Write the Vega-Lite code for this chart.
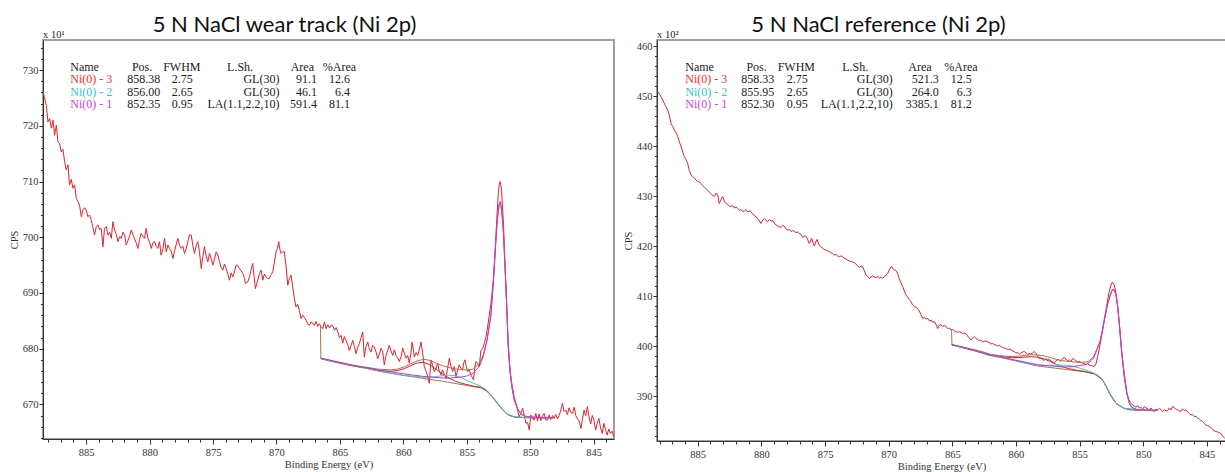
{
"$schema": "https://vega.github.io/schema/vega-lite/v6.json",
"background": "white",
"padding": {"left": 8, "top": 13, "right": 2, "bottom": 0},
"spacing": 7,
"config": {
  "view": {"stroke": "#a0a0a0", "strokeWidth": 2},
  "axis": {"domainColor": "#333333", "tickColor": "#333333", "labelColor": "#333333", "labelFont": "Liberation Serif", "labelFontSize": 10.5, "titleFont": "Liberation Serif", "titleFontSize": 10.5, "titleFontWeight": "normal", "titleColor": "#333333", "grid": false, "labelOverlap": false, "labelFlush": false},
  "title": {"font": "Lato", "fontSize": 22, "fontWeight": "normal", "color": "#111111", "anchor": "middle"},
  "text": {"font": "Liberation Serif", "fontSize": 12}
},
"datasets": {
"L_data": [
{"be":888.40,"cps":726.1},{"be":888.14,"cps":723.7},{"be":888.01,"cps":720.7},{"be":887.88,"cps":721.3},{"be":887.74,"cps":719.6},{"be":887.61,"cps":721.0},{"be":887.49,"cps":718.3},{"be":887.35,"cps":720.1},{"be":887.22,"cps":717.1},{"be":887.09,"cps":716.8},{"be":886.96,"cps":715.3},{"be":886.83,"cps":715.8},{"be":886.70,"cps":713.6},{"be":886.57,"cps":712.1},{"be":886.43,"cps":713.0},{"be":886.31,"cps":709.4},{"be":886.17,"cps":710.4},{"be":886.04,"cps":708.8},{"be":885.91,"cps":709.4},{"be":885.78,"cps":707.0},{"be":885.64,"cps":706.4},{"be":885.51,"cps":705.6},{"be":885.38,"cps":703.7},{"be":885.25,"cps":704.9},{"be":885.12,"cps":705.3},{"be":884.99,"cps":704.9},{"be":884.86,"cps":703.7},{"be":884.73,"cps":704.0},{"be":884.60,"cps":703.1},{"be":884.47,"cps":701.8},{"be":884.34,"cps":700.4},{"be":884.20,"cps":701.9},{"be":884.07,"cps":702.2},{"be":883.94,"cps":701.4},{"be":883.81,"cps":701.6},{"be":883.68,"cps":698.3},{"be":883.55,"cps":701.6},{"be":883.41,"cps":701.9},{"be":883.28,"cps":700.4},{"be":883.15,"cps":700.9},{"be":883.02,"cps":699.8},{"be":882.89,"cps":702.8},{"be":882.76,"cps":701.3},{"be":882.63,"cps":700.6},{"be":882.49,"cps":699.2},{"be":882.36,"cps":700.1},{"be":882.23,"cps":699.8},{"be":882.10,"cps":700.9},{"be":881.97,"cps":700.4},{"be":881.84,"cps":698.6},{"be":881.71,"cps":699.4},{"be":881.58,"cps":700.2},{"be":881.45,"cps":701.3},{"be":881.32,"cps":700.5},{"be":881.19,"cps":699.8},{"be":881.06,"cps":699.0},{"be":880.92,"cps":698.0},{"be":880.79,"cps":699.6},{"be":880.66,"cps":700.7},{"be":880.53,"cps":700.2},{"be":880.40,"cps":699.8},{"be":880.27,"cps":701.6},{"be":880.13,"cps":699.8},{"be":880.00,"cps":699.1},{"be":879.87,"cps":698.0},{"be":879.74,"cps":699.0},{"be":879.61,"cps":699.2},{"be":879.48,"cps":698.4},{"be":879.35,"cps":698.0},{"be":879.22,"cps":699.2},{"be":879.09,"cps":696.8},{"be":878.95,"cps":697.9},{"be":878.82,"cps":699.8},{"be":878.69,"cps":697.4},{"be":878.56,"cps":698.6},{"be":878.43,"cps":698.0},{"be":878.29,"cps":697.5},{"be":878.16,"cps":696.2},{"be":878.03,"cps":697.6},{"be":877.90,"cps":698.7},{"be":877.77,"cps":699.8},{"be":877.64,"cps":698.5},{"be":877.51,"cps":698.0},{"be":877.38,"cps":698.4},{"be":877.25,"cps":697.1},{"be":877.11,"cps":698.0},{"be":876.98,"cps":699.3},{"be":876.86,"cps":700.4},{"be":876.72,"cps":700.4},{"be":876.59,"cps":698.5},{"be":876.46,"cps":697.1},{"be":876.33,"cps":698.5},{"be":876.20,"cps":699.2},{"be":876.06,"cps":697.2},{"be":875.93,"cps":694.4},{"be":875.80,"cps":696.5},{"be":875.68,"cps":698.3},{"be":875.54,"cps":696.6},{"be":875.41,"cps":695.6},{"be":875.28,"cps":697.1},{"be":875.15,"cps":696.2},{"be":875.01,"cps":695.0},{"be":874.88,"cps":696.1},{"be":874.75,"cps":697.4},{"be":874.62,"cps":696.8},{"be":874.49,"cps":695.6},{"be":874.36,"cps":694.6},{"be":874.23,"cps":694.1},{"be":874.10,"cps":695.2},{"be":873.97,"cps":694.4},{"be":873.84,"cps":693.5},{"be":873.71,"cps":692.3},{"be":873.57,"cps":693.6},{"be":873.44,"cps":692.9},{"be":873.31,"cps":693.8},{"be":873.18,"cps":695.0},{"be":873.05,"cps":694.9},{"be":872.92,"cps":694.4},{"be":872.79,"cps":694.0},{"be":872.65,"cps":693.5},{"be":872.52,"cps":692.6},{"be":872.45,"cps":691.7},{"be":872.26,"cps":692.0},{"be":872.13,"cps":692.9},{"be":872.00,"cps":694.2},{"be":871.87,"cps":695.3},{"be":871.77,"cps":693.0},{"be":871.66,"cps":690.8},{"be":871.47,"cps":692.3},{"be":871.34,"cps":693.5},{"be":871.21,"cps":694.1},{"be":871.08,"cps":692.3},{"be":870.95,"cps":693.4},{"be":870.82,"cps":692.9},{"be":870.69,"cps":692.6},{"be":870.56,"cps":692.6},{"be":870.42,"cps":693.3},{"be":870.29,"cps":693.8},{"be":870.16,"cps":695.6},{"be":870.03,"cps":697.4},{"be":869.93,"cps":698.0},{"be":869.82,"cps":699.2},{"be":869.73,"cps":697.8},{"be":869.64,"cps":697.1},{"be":869.51,"cps":697.4},{"be":869.38,"cps":697.4},{"be":869.24,"cps":694.7},{"be":869.11,"cps":691.4},{"be":868.98,"cps":692.6},{"be":868.85,"cps":693.2},{"be":868.72,"cps":691.1},{"be":868.59,"cps":689.0},{"be":868.46,"cps":687.5},{"be":868.33,"cps":688.0},{"be":868.20,"cps":686.9},{"be":868.06,"cps":685.4},{"be":867.93,"cps":686.0},{"be":867.80,"cps":685.6},{"be":867.67,"cps":685.1},{"be":867.54,"cps":684.5},{"be":867.41,"cps":684.2},{"be":867.28,"cps":684.8},{"be":867.14,"cps":684.6},{"be":867.01,"cps":684.2},{"be":866.88,"cps":684.9},{"be":866.75,"cps":684.0},{"be":866.62,"cps":684.5},{"be":866.49,"cps":684.0},{"be":866.36,"cps":683.6},{"be":866.22,"cps":684.8},{"be":866.09,"cps":683.6},{"be":865.96,"cps":684.3},{"be":865.83,"cps":683.7},{"be":865.70,"cps":684.2},{"be":865.57,"cps":684.2},{"be":865.43,"cps":683.3},{"be":865.30,"cps":683.8},{"be":865.17,"cps":683.0},{"be":865.04,"cps":682.0},{"be":864.91,"cps":682.4},{"be":864.78,"cps":681.0},{"be":864.65,"cps":682.2},{"be":864.52,"cps":681.5},{"be":864.39,"cps":680.8},{"be":864.26,"cps":679.7},{"be":864.12,"cps":680.6},{"be":863.99,"cps":681.5},{"be":863.86,"cps":680.4},{"be":863.73,"cps":679.1},{"be":863.60,"cps":680.2},{"be":863.47,"cps":680.9},{"be":863.33,"cps":682.0},{"be":863.20,"cps":683.0},{"be":863.08,"cps":678.5},{"be":862.94,"cps":680.4},{"be":862.81,"cps":681.2},{"be":862.68,"cps":680.0},{"be":862.55,"cps":679.4},{"be":862.42,"cps":680.6},{"be":862.29,"cps":680.3},{"be":862.15,"cps":679.4},{"be":862.02,"cps":678.2},{"be":861.89,"cps":679.0},{"be":861.76,"cps":680.1},{"be":861.63,"cps":679.5},{"be":861.50,"cps":677.1},{"be":861.37,"cps":678.8},{"be":861.23,"cps":679.7},{"be":861.11,"cps":680.6},{"be":860.97,"cps":679.6},{"be":860.84,"cps":678.8},{"be":860.71,"cps":679.8},{"be":860.58,"cps":678.8},{"be":860.45,"cps":678.4},{"be":860.32,"cps":677.7},{"be":860.18,"cps":678.6},{"be":860.05,"cps":680.1},{"be":859.92,"cps":679.2},{"be":859.79,"cps":678.3},{"be":859.66,"cps":678.8},{"be":859.53,"cps":677.4},{"be":859.42,"cps":679.0},{"be":859.31,"cps":681.2},{"be":859.13,"cps":678.5},{"be":859.00,"cps":679.3},{"be":858.87,"cps":678.8},{"be":858.74,"cps":679.9},{"be":858.61,"cps":681.2},{"be":858.48,"cps":679.2},{"be":858.35,"cps":676.8},{"be":858.22,"cps":676.0},{"be":858.08,"cps":675.0},{"be":857.96,"cps":673.8},{"be":857.82,"cps":678.0},{"be":857.69,"cps":677.0},{"be":857.56,"cps":675.9},{"be":857.43,"cps":676.4},{"be":857.30,"cps":677.4},{"be":857.17,"cps":676.0},{"be":857.04,"cps":675.3},{"be":856.91,"cps":676.2},{"be":856.78,"cps":675.4},{"be":856.64,"cps":674.7},{"be":856.51,"cps":676.5},{"be":856.38,"cps":678.3},{"be":856.25,"cps":676.9},{"be":856.12,"cps":675.9},{"be":855.99,"cps":676.8},{"be":855.86,"cps":675.0},{"be":855.73,"cps":676.0},{"be":855.60,"cps":677.1},{"be":855.47,"cps":676.5},{"be":855.33,"cps":676.2},{"be":855.24,"cps":677.5},{"be":855.15,"cps":678.0},{"be":855.04,"cps":676.8},{"be":854.94,"cps":675.9},{"be":854.81,"cps":676.2},{"be":854.68,"cps":675.3},{"be":854.58,"cps":674.9},{"be":854.47,"cps":674.4},{"be":854.38,"cps":676.4},{"be":854.28,"cps":677.7},{"be":854.15,"cps":677.4},{"be":854.02,"cps":676.8},{"be":853.89,"cps":679.7},{"be":853.76,"cps":680.0},{"be":853.63,"cps":680.9},{"be":853.50,"cps":682.0},{"be":853.36,"cps":683.9},{"be":853.23,"cps":686.0},{"be":853.10,"cps":688.1},{"be":853.01,"cps":690.0},{"be":852.92,"cps":692.3},{"be":852.81,"cps":696.0},{"be":852.71,"cps":700.1},{"be":852.64,"cps":703.2},{"be":852.57,"cps":706.1},{"be":852.51,"cps":708.0},{"be":852.45,"cps":709.4},{"be":852.37,"cps":710.0},{"be":852.31,"cps":709.3},{"be":852.26,"cps":708.5},{"be":852.20,"cps":706.0},{"be":852.13,"cps":703.1},{"be":852.06,"cps":699.6},{"be":852.00,"cps":695.9},{"be":851.93,"cps":692.0},{"be":851.86,"cps":688.1},{"be":851.80,"cps":684.2},{"be":851.74,"cps":680.3},{"be":851.63,"cps":677.2},{"be":851.53,"cps":674.9},{"be":851.40,"cps":673.0},{"be":851.27,"cps":671.4},{"be":851.13,"cps":670.2},{"be":851.00,"cps":669.0},{"be":850.87,"cps":667.8},{"be":850.74,"cps":668.5},{"be":850.60,"cps":669.3},{"be":850.47,"cps":668.0},{"be":850.34,"cps":666.6},{"be":850.21,"cps":666.8},{"be":850.08,"cps":665.4},{"be":849.95,"cps":668.1},{"be":849.82,"cps":667.4},{"be":849.69,"cps":667.2},{"be":849.56,"cps":668.4},{"be":849.43,"cps":667.0},{"be":849.30,"cps":668.3},{"be":849.17,"cps":667.1},{"be":849.04,"cps":667.9},{"be":848.91,"cps":668.4},{"be":848.78,"cps":667.2},{"be":848.64,"cps":667.2},{"be":848.51,"cps":668.1},{"be":848.38,"cps":667.3},{"be":848.25,"cps":668.0},{"be":848.12,"cps":667.5},{"be":847.99,"cps":668.2},{"be":847.86,"cps":667.4},{"be":847.73,"cps":668.0},{"be":847.59,"cps":669.0},{"be":847.46,"cps":670.2},{"be":847.33,"cps":668.7},{"be":847.20,"cps":669.0},{"be":847.07,"cps":668.2},{"be":846.94,"cps":669.4},{"be":846.80,"cps":668.6},{"be":846.67,"cps":668.4},{"be":846.54,"cps":669.5},{"be":846.41,"cps":668.0},{"be":846.28,"cps":667.4},{"be":846.15,"cps":667.0},{"be":846.00,"cps":665.7},{"be":845.88,"cps":667.5},{"be":845.76,"cps":669.0},{"be":845.63,"cps":668.0},{"be":845.50,"cps":669.6},{"be":845.37,"cps":667.8},{"be":845.24,"cps":666.5},{"be":845.11,"cps":668.0},{"be":844.98,"cps":667.2},{"be":844.85,"cps":665.4},{"be":844.72,"cps":666.6},{"be":844.59,"cps":667.5},{"be":844.46,"cps":665.8},{"be":844.33,"cps":664.8},{"be":844.20,"cps":666.6},{"be":844.07,"cps":665.5},{"be":843.94,"cps":664.5},{"be":843.81,"cps":665.6},{"be":843.68,"cps":664.8},{"be":843.55,"cps":665.2},{"be":843.42,"cps":664.2}
],
"L_bg": [
{"be":848.2,"cps":667.6},{"be":849.0,"cps":667.6},{"be":850.0,"cps":667.6},{"be":851.0,"cps":667.7},{"be":851.2,"cps":667.7},{"be":851.5,"cps":667.9},{"be":851.8,"cps":668.2},{"be":852.0,"cps":668.6},{"be":852.2,"cps":669.1},{"be":852.4,"cps":669.6},{"be":852.6,"cps":670.2},{"be":852.8,"cps":670.8},{"be":853.0,"cps":671.4},{"be":853.2,"cps":671.9},{"be":853.5,"cps":672.5},{"be":853.9,"cps":673.0},{"be":854.5,"cps":673.2},{"be":855.0,"cps":673.4},{"be":856.0,"cps":673.8},{"be":857.0,"cps":674.2},{"be":858.0,"cps":674.5},{"be":859.0,"cps":674.9},{"be":860.0,"cps":675.2},{"be":861.0,"cps":675.6},{"be":862.0,"cps":676.0},{"be":863.0,"cps":676.5},{"be":864.0,"cps":676.9},{"be":865.0,"cps":677.4},{"be":866.0,"cps":677.9},{"be":866.5,"cps":678.2},{"be":866.53,"cps":684.2}
],
"L_c3": [
{"be":848.2,"cps":667.61},{"be":850.0,"cps":667.62},{"be":851.2,"cps":667.73},{"be":851.8,"cps":668.23},{"be":852.2,"cps":669.14},{"be":852.6,"cps":670.24},{"be":853.0,"cps":671.45},{"be":853.4,"cps":672.4},{"be":853.9,"cps":673.08},{"be":854.4,"cps":673.25},{"be":854.9,"cps":673.51},{"be":855.4,"cps":673.79},{"be":855.9,"cps":674.17},{"be":856.4,"cps":674.72},{"be":856.9,"cps":675.47},{"be":857.4,"cps":676.31},{"be":857.9,"cps":677.1},{"be":858.38,"cps":677.55},{"be":858.9,"cps":677.47},{"be":859.4,"cps":676.98},{"be":859.9,"cps":676.45},{"be":860.4,"cps":676.1},{"be":860.9,"cps":675.97},{"be":861.4,"cps":675.99},{"be":862.0,"cps":676.14},{"be":863.0,"cps":676.57},{"be":864.5,"cps":677.19},{"be":866.5,"cps":678.23}
],
"L_c2": [
{"be":848.2,"cps":667.62},{"be":850.0,"cps":667.63},{"be":851.2,"cps":667.74},{"be":851.8,"cps":668.25},{"be":852.2,"cps":669.16},{"be":852.6,"cps":670.28},{"be":853.0,"cps":671.51},{"be":853.5,"cps":672.7},{"be":854.0,"cps":673.39},{"be":854.5,"cps":673.82},{"be":855.0,"cps":674.35},{"be":855.5,"cps":674.86},{"be":856.0,"cps":675.2},{"be":856.5,"cps":675.26},{"be":857.0,"cps":675.15},{"be":857.5,"cps":674.97},{"be":858.0,"cps":674.86},{"be":858.5,"cps":674.9},{"be":859.0,"cps":675.01},{"be":860.0,"cps":675.25},{"be":861.0,"cps":675.63},{"be":863.0,"cps":676.52},{"be":866.5,"cps":678.21}
],
"L_c1": [
{"be":848.2,"cps":667.6},{"be":849.5,"cps":667.65},{"be":850.3,"cps":667.8},{"be":850.7,"cps":668.2},{"be":851.0,"cps":669.2},{"be":851.27,"cps":670.85},{"be":851.45,"cps":673.1},{"be":851.6,"cps":676.1},{"be":851.74,"cps":681.0},{"be":851.86,"cps":687.9},{"be":852.0,"cps":695.2},{"be":852.13,"cps":701.4},{"be":852.25,"cps":704.6},{"be":852.35,"cps":706.35},{"be":852.45,"cps":705.9},{"be":852.6,"cps":703.0},{"be":852.75,"cps":697.9},{"be":852.9,"cps":692.1},{"be":853.1,"cps":686.0},{"be":853.4,"cps":681.5},{"be":853.7,"cps":678.6},{"be":854.0,"cps":676.9},{"be":854.5,"cps":675.6},{"be":855.0,"cps":675.1},{"be":855.5,"cps":674.9},{"be":856.5,"cps":674.7},{"be":857.5,"cps":674.85},{"be":858.5,"cps":675.05},{"be":860.0,"cps":675.5},{"be":862.0,"cps":676.2},{"be":864.0,"cps":677.0},{"be":866.5,"cps":678.3}
],
"L_env": [
{"be":848.2,"cps":667.65},{"be":849.5,"cps":667.7},{"be":850.3,"cps":667.85},{"be":850.7,"cps":668.25},{"be":851.0,"cps":669.25},{"be":851.27,"cps":670.9},{"be":851.45,"cps":673.2},{"be":851.6,"cps":676.2},{"be":851.74,"cps":681.1},{"be":851.86,"cps":688.0},{"be":852.0,"cps":695.3},{"be":852.13,"cps":701.5},{"be":852.25,"cps":704.7},{"be":852.35,"cps":706.45},{"be":852.45,"cps":706.0},{"be":852.6,"cps":703.1},{"be":852.75,"cps":698.0},{"be":852.9,"cps":692.2},{"be":853.1,"cps":686.18},{"be":853.4,"cps":681.74},{"be":853.7,"cps":678.93},{"be":854.0,"cps":677.4},{"be":854.5,"cps":676.34},{"be":855.0,"cps":676.19},{"be":855.5,"cps":676.25},{"be":856.0,"cps":676.42},{"be":856.4,"cps":676.62},{"be":856.9,"cps":676.93},{"be":857.4,"cps":677.4},{"be":857.9,"cps":677.9},{"be":858.38,"cps":678.1},{"be":858.9,"cps":677.84},{"be":859.4,"cps":677.3},{"be":859.9,"cps":676.77},{"be":860.4,"cps":676.37},{"be":861.0,"cps":676.2},{"be":862.0,"cps":676.34},{"be":864.0,"cps":677.06},{"be":866.5,"cps":678.3}
],
"L_names": [
{"t":"Name","be":886.25,"cps":730.6,"k":"hdr"},{"t":"Ni(0) - 3","be":886.25,"cps":728.36,"k":"Ni(0) - 3"},{"t":"Ni(0) - 2","be":886.25,"cps":726.15,"k":"Ni(0) - 2"},{"t":"Ni(0) - 1","be":886.25,"cps":723.87,"k":"Ni(0) - 1"}
],
"L_cells": [
{"t":"Pos.","be":879.79,"cps":730.6},{"t":"FWHM","be":875.99,"cps":730.6},{"t":"L.Sh.","be":871.84,"cps":730.6},{"t":"Area","be":867.04,"cps":730.6},{"t":"%Area","be":863.72,"cps":730.6},
{"t":"858.38","be":879.16,"cps":728.36},{"t":"2.75","be":876.59,"cps":728.36},{"t":"GL(30)","be":869.77,"cps":728.36},{"t":"91.1","be":866.8,"cps":728.36},{"t":"12.6","be":864.2,"cps":728.36},
{"t":"856.00","be":879.16,"cps":726.15},{"t":"2.65","be":876.59,"cps":726.15},{"t":"GL(30)","be":869.77,"cps":726.15},{"t":"46.1","be":866.8,"cps":726.15},{"t":"6.4","be":864.2,"cps":726.15},
{"t":"852.35","be":879.16,"cps":723.87},{"t":"0.95","be":876.59,"cps":723.87},{"t":"LA(1.1,2.2,10)","be":869.77,"cps":723.87},{"t":"591.4","be":866.8,"cps":723.87},{"t":"81.1","be":864.2,"cps":723.87}
],
"L_exp": [{"t":"x 10¹","be":888.4,"cps":735.4}],
"R_data": [
{"be":888.15,"cps":450.9},{"be":887.95,"cps":450.2},{"be":887.75,"cps":449.2},{"be":887.55,"cps":448.1},{"be":887.36,"cps":447.2},{"be":887.22,"cps":446.0},{"be":887.10,"cps":444.5},{"be":886.97,"cps":443.9},{"be":886.84,"cps":443.2},{"be":886.70,"cps":442.6},{"be":886.57,"cps":441.9},{"be":886.44,"cps":440.8},{"be":886.31,"cps":439.9},{"be":886.18,"cps":438.8},{"be":886.06,"cps":437.9},{"be":885.92,"cps":437.3},{"be":885.79,"cps":436.5},{"be":885.66,"cps":435.1},{"be":885.53,"cps":434.2},{"be":885.40,"cps":433.9},{"be":885.27,"cps":433.6},{"be":885.14,"cps":433.2},{"be":885.00,"cps":432.9},{"be":884.87,"cps":432.8},{"be":884.74,"cps":432.5},{"be":884.61,"cps":432.1},{"be":884.48,"cps":431.8},{"be":884.35,"cps":431.5},{"be":884.22,"cps":431.1},{"be":884.09,"cps":430.8},{"be":883.96,"cps":430.5},{"be":883.83,"cps":430.1},{"be":883.70,"cps":429.9},{"be":883.56,"cps":430.6},{"be":883.43,"cps":430.2},{"be":883.31,"cps":428.5},{"be":883.17,"cps":429.3},{"be":883.04,"cps":429.9},{"be":882.91,"cps":429.0},{"be":882.78,"cps":428.5},{"be":882.65,"cps":428.3},{"be":882.52,"cps":428.0},{"be":882.39,"cps":427.9},{"be":882.26,"cps":428.1},{"be":882.12,"cps":427.6},{"be":881.99,"cps":427.8},{"be":881.86,"cps":427.5},{"be":881.73,"cps":427.2},{"be":881.60,"cps":427.3},{"be":881.47,"cps":426.9},{"be":881.34,"cps":427.0},{"be":881.21,"cps":427.3},{"be":881.08,"cps":426.8},{"be":880.95,"cps":427.0},{"be":880.82,"cps":426.9},{"be":880.69,"cps":426.4},{"be":880.56,"cps":426.2},{"be":880.42,"cps":425.8},{"be":880.29,"cps":425.5},{"be":880.16,"cps":425.0},{"be":880.03,"cps":424.5},{"be":879.90,"cps":425.2},{"be":879.77,"cps":425.5},{"be":879.64,"cps":425.1},{"be":879.50,"cps":424.9},{"be":879.37,"cps":425.3},{"be":879.24,"cps":425.0},{"be":879.11,"cps":425.1},{"be":878.98,"cps":424.6},{"be":878.85,"cps":424.2},{"be":878.72,"cps":424.0},{"be":878.59,"cps":423.9},{"be":878.46,"cps":423.7},{"be":878.33,"cps":424.1},{"be":878.20,"cps":424.0},{"be":878.07,"cps":423.4},{"be":877.93,"cps":423.2},{"be":877.80,"cps":423.3},{"be":877.67,"cps":422.9},{"be":877.54,"cps":423.1},{"be":877.41,"cps":422.9},{"be":877.28,"cps":422.7},{"be":877.15,"cps":422.8},{"be":877.02,"cps":422.5},{"be":876.88,"cps":422.3},{"be":876.75,"cps":421.7},{"be":876.63,"cps":422.0},{"be":876.50,"cps":422.0},{"be":876.37,"cps":421.3},{"be":876.24,"cps":420.5},{"be":876.14,"cps":421.0},{"be":876.05,"cps":421.5},{"be":875.94,"cps":420.6},{"be":875.84,"cps":420.0},{"be":875.73,"cps":420.8},{"be":875.63,"cps":421.3},{"be":875.50,"cps":420.4},{"be":875.37,"cps":419.9},{"be":875.24,"cps":419.7},{"be":875.06,"cps":419.3},{"be":874.93,"cps":419.2},{"be":874.80,"cps":419.0},{"be":874.67,"cps":418.9},{"be":874.54,"cps":418.7},{"be":874.41,"cps":418.5},{"be":874.28,"cps":418.2},{"be":874.14,"cps":418.3},{"be":874.01,"cps":418.0},{"be":873.88,"cps":417.9},{"be":873.75,"cps":418.0},{"be":873.62,"cps":417.9},{"be":873.49,"cps":417.5},{"be":873.35,"cps":417.4},{"be":873.22,"cps":417.2},{"be":873.09,"cps":417.0},{"be":872.96,"cps":416.9},{"be":872.83,"cps":416.8},{"be":872.70,"cps":416.7},{"be":872.57,"cps":416.4},{"be":872.44,"cps":416.0},{"be":872.31,"cps":415.7},{"be":872.17,"cps":416.0},{"be":872.04,"cps":415.9},{"be":871.91,"cps":415.0},{"be":871.78,"cps":414.2},{"be":871.65,"cps":413.9},{"be":871.52,"cps":413.5},{"be":871.39,"cps":413.8},{"be":871.26,"cps":414.0},{"be":871.13,"cps":413.8},{"be":870.99,"cps":413.7},{"be":870.86,"cps":413.9},{"be":870.73,"cps":413.6},{"be":870.60,"cps":413.8},{"be":870.47,"cps":413.5},{"be":870.34,"cps":413.9},{"be":870.21,"cps":414.2},{"be":870.08,"cps":414.5},{"be":869.95,"cps":415.2},{"be":869.82,"cps":415.8},{"be":869.76,"cps":415.9},{"be":869.62,"cps":415.3},{"be":869.43,"cps":415.1},{"be":869.30,"cps":414.5},{"be":869.17,"cps":413.5},{"be":869.03,"cps":412.6},{"be":868.90,"cps":411.9},{"be":868.77,"cps":411.0},{"be":868.64,"cps":410.2},{"be":868.51,"cps":409.8},{"be":868.38,"cps":409.3},{"be":868.25,"cps":408.9},{"be":868.12,"cps":408.2},{"be":867.99,"cps":407.9},{"be":867.86,"cps":407.8},{"be":867.73,"cps":407.4},{"be":867.64,"cps":407.2},{"be":867.46,"cps":406.3},{"be":867.33,"cps":405.5},{"be":867.20,"cps":405.7},{"be":867.06,"cps":405.4},{"be":866.93,"cps":405.5},{"be":866.80,"cps":405.0},{"be":866.67,"cps":405.2},{"be":866.54,"cps":404.7},{"be":866.41,"cps":404.9},{"be":866.28,"cps":404.3},{"be":866.15,"cps":403.5},{"be":866.02,"cps":404.2},{"be":865.89,"cps":404.2},{"be":865.76,"cps":403.9},{"be":865.63,"cps":404.1},{"be":865.50,"cps":403.9},{"be":865.37,"cps":403.5},{"be":865.24,"cps":403.6},{"be":865.10,"cps":403.2},{"be":864.97,"cps":403.3},{"be":864.84,"cps":403.0},{"be":864.71,"cps":402.9},{"be":864.58,"cps":402.7},{"be":864.45,"cps":402.9},{"be":864.32,"cps":402.7},{"be":864.19,"cps":402.5},{"be":864.06,"cps":402.6},{"be":863.93,"cps":402.4},{"be":863.80,"cps":402.0},{"be":863.66,"cps":401.6},{"be":863.53,"cps":401.2},{"be":863.40,"cps":401.6},{"be":863.27,"cps":401.9},{"be":863.14,"cps":401.5},{"be":863.01,"cps":401.3},{"be":862.88,"cps":401.1},{"be":862.75,"cps":401.2},{"be":862.62,"cps":400.8},{"be":862.49,"cps":400.9},{"be":862.36,"cps":401.0},{"be":862.23,"cps":400.8},{"be":862.10,"cps":400.7},{"be":861.96,"cps":400.4},{"be":861.83,"cps":400.5},{"be":861.70,"cps":400.3},{"be":861.57,"cps":400.2},{"be":861.44,"cps":400.0},{"be":861.31,"cps":400.1},{"be":861.18,"cps":399.9},{"be":861.05,"cps":399.7},{"be":860.92,"cps":399.6},{"be":860.78,"cps":399.5},{"be":860.65,"cps":399.3},{"be":860.52,"cps":399.4},{"be":860.39,"cps":399.2},{"be":860.26,"cps":399.0},{"be":860.13,"cps":398.9},{"be":860.00,"cps":398.6},{"be":859.87,"cps":398.7},{"be":859.74,"cps":398.4},{"be":859.61,"cps":398.6},{"be":859.48,"cps":398.8},{"be":859.35,"cps":398.9},{"be":859.21,"cps":398.6},{"be":859.08,"cps":398.3},{"be":858.95,"cps":398.5},{"be":858.82,"cps":398.4},{"be":858.69,"cps":398.6},{"be":858.56,"cps":398.9},{"be":858.43,"cps":398.5},{"be":858.30,"cps":398.0},{"be":858.17,"cps":397.5},{"be":858.04,"cps":397.6},{"be":857.91,"cps":397.3},{"be":857.78,"cps":397.1},{"be":857.64,"cps":397.5},{"be":857.51,"cps":397.2},{"be":857.38,"cps":397.3},{"be":857.25,"cps":397.0},{"be":857.12,"cps":396.8},{"be":856.99,"cps":396.7},{"be":856.86,"cps":397.0},{"be":856.73,"cps":397.3},{"be":856.60,"cps":397.2},{"be":856.47,"cps":396.9},{"be":856.33,"cps":397.5},{"be":856.20,"cps":397.7},{"be":856.07,"cps":397.4},{"be":855.94,"cps":397.1},{"be":855.81,"cps":397.2},{"be":855.68,"cps":396.9},{"be":855.55,"cps":397.5},{"be":855.42,"cps":397.3},{"be":855.29,"cps":397.0},{"be":855.16,"cps":396.8},{"be":855.03,"cps":396.9},{"be":854.90,"cps":396.7},{"be":854.76,"cps":396.6},{"be":854.63,"cps":396.5},{"be":854.50,"cps":396.3},{"be":854.37,"cps":396.5},{"be":854.24,"cps":396.2},{"be":854.11,"cps":396.1},{"be":853.98,"cps":396.0},{"be":853.85,"cps":395.9},{"be":853.71,"cps":396.5},{"be":853.58,"cps":397.9},{"be":853.46,"cps":399.4},{"be":853.33,"cps":401.2},{"be":853.19,"cps":403.2},{"be":853.06,"cps":405.3},{"be":852.93,"cps":407.2},{"be":852.80,"cps":409.2},{"be":852.67,"cps":410.9},{"be":852.56,"cps":412.0},{"be":852.46,"cps":412.7},{"be":852.37,"cps":412.6},{"be":852.28,"cps":412.2},{"be":852.18,"cps":411.0},{"be":852.07,"cps":409.2},{"be":851.98,"cps":407.0},{"be":851.88,"cps":404.5},{"be":851.79,"cps":401.8},{"be":851.70,"cps":399.2},{"be":851.60,"cps":396.8},{"be":851.49,"cps":394.5},{"be":851.38,"cps":392.4},{"be":851.28,"cps":390.5},{"be":851.15,"cps":389.4},{"be":851.02,"cps":388.7},{"be":850.90,"cps":388.3},{"be":850.71,"cps":388.0},{"be":850.58,"cps":387.8},{"be":850.44,"cps":388.1},{"be":850.30,"cps":387.6},{"be":850.17,"cps":387.7},{"be":850.04,"cps":387.4},{"be":849.91,"cps":387.9},{"be":849.78,"cps":387.6},{"be":849.65,"cps":387.5},{"be":849.52,"cps":387.2},{"be":849.39,"cps":387.6},{"be":849.26,"cps":387.1},{"be":849.13,"cps":386.9},{"be":849.00,"cps":387.4},{"be":848.87,"cps":387.2},{"be":848.74,"cps":387.5},{"be":848.61,"cps":387.3},{"be":848.48,"cps":386.9},{"be":848.34,"cps":387.3},{"be":848.21,"cps":387.0},{"be":848.08,"cps":387.1},{"be":847.95,"cps":387.6},{"be":847.82,"cps":387.2},{"be":847.69,"cps":387.9},{"be":847.56,"cps":387.7},{"be":847.43,"cps":387.3},{"be":847.30,"cps":387.2},{"be":847.17,"cps":386.9},{"be":847.04,"cps":387.0},{"be":846.91,"cps":387.4},{"be":846.78,"cps":387.1},{"be":846.64,"cps":387.2},{"be":846.51,"cps":386.8},{"be":846.38,"cps":386.5},{"be":846.25,"cps":386.2},{"be":846.12,"cps":386.3},{"be":845.99,"cps":385.9},{"be":845.86,"cps":385.9},{"be":845.73,"cps":385.6},{"be":845.60,"cps":385.4},{"be":845.47,"cps":385.1},{"be":845.34,"cps":384.9},{"be":845.21,"cps":384.5},{"be":845.08,"cps":384.2},{"be":844.95,"cps":384.1},{"be":844.82,"cps":383.9},{"be":844.69,"cps":383.7},{"be":844.56,"cps":383.4},{"be":844.43,"cps":383.0},{"be":844.29,"cps":382.9},{"be":844.16,"cps":382.8},{"be":844.03,"cps":382.7},{"be":843.90,"cps":382.5},{"be":843.77,"cps":382.0},{"be":843.59,"cps":381.5}
],
"R_bg": [
{"be":848.9,"cps":387.1},{"be":850.2,"cps":387.1},{"be":851.0,"cps":387.2},{"be":851.5,"cps":387.5},{"be":851.8,"cps":387.9},{"be":852.14,"cps":388.5},{"be":852.4,"cps":389.4},{"be":852.67,"cps":390.6},{"be":852.9,"cps":392.0},{"be":853.2,"cps":393.2},{"be":853.5,"cps":393.9},{"be":853.85,"cps":394.4},{"be":854.5,"cps":394.8},{"be":855.7,"cps":395.2},{"be":857.0,"cps":395.6},{"be":858.3,"cps":396.0},{"be":859.0,"cps":396.4},{"be":860.0,"cps":397.0},{"be":861.0,"cps":397.6},{"be":862.2,"cps":398.2},{"be":863.0,"cps":398.9},{"be":864.0,"cps":399.6},{"be":865.03,"cps":400.2},{"be":865.06,"cps":403.3}
],
"R_c3": [
{"be":848.9,"cps":387.115},{"be":850.2,"cps":387.12},{"be":851.5,"cps":387.53},{"be":852.14,"cps":388.53},{"be":852.67,"cps":390.64},{"be":853.2,"cps":393.25},{"be":853.85,"cps":394.46},{"be":854.3,"cps":394.72},{"be":854.8,"cps":395.0},{"be":855.3,"cps":395.19},{"be":855.8,"cps":395.45},{"be":856.3,"cps":395.8},{"be":856.8,"cps":396.28},{"be":857.3,"cps":396.9},{"be":857.8,"cps":397.43},{"be":858.33,"cps":397.77},{"be":858.8,"cps":397.88},{"be":859.3,"cps":397.78},{"be":859.8,"cps":397.7},{"be":860.3,"cps":397.66},{"be":860.8,"cps":397.75},{"be":861.3,"cps":397.89},{"be":862.0,"cps":398.18},{"be":863.0,"cps":398.95},{"be":865.03,"cps":400.24}
],
"R_c2": [
{"be":848.9,"cps":387.11},{"be":850.2,"cps":387.12},{"be":851.5,"cps":387.53},{"be":852.14,"cps":388.54},{"be":852.67,"cps":390.65},{"be":853.2,"cps":393.29},{"be":853.5,"cps":394.02},{"be":854.0,"cps":394.72},{"be":854.5,"cps":395.17},{"be":855.0,"cps":395.58},{"be":855.5,"cps":395.93},{"be":855.95,"cps":396.13},{"be":856.5,"cps":396.17},{"be":857.0,"cps":396.18},{"be":857.5,"cps":396.12},{"be":858.0,"cps":396.12},{"be":859.0,"cps":396.47},{"be":861.0,"cps":397.62},{"be":865.03,"cps":400.21}
],
"R_c1": [
{"be":848.9,"cps":387.1},{"be":849.5,"cps":387.15},{"be":850.5,"cps":387.25},{"be":850.9,"cps":387.7},{"be":851.1,"cps":388.55},{"be":851.3,"cps":390.6},{"be":851.5,"cps":394.0},{"be":851.7,"cps":398.8},{"be":851.85,"cps":403.5},{"be":852.0,"cps":407.7},{"be":852.15,"cps":410.3},{"be":852.3,"cps":411.2},{"be":852.45,"cps":411.1},{"be":852.6,"cps":410.0},{"be":852.8,"cps":408.3},{"be":853.0,"cps":405.8},{"be":853.2,"cps":403.2},{"be":853.4,"cps":400.8},{"be":853.6,"cps":399.5},{"be":853.9,"cps":397.6},{"be":854.2,"cps":396.8},{"be":854.5,"cps":396.3},{"be":855.0,"cps":396.1},{"be":855.5,"cps":395.9},{"be":856.2,"cps":395.8},{"be":857.0,"cps":395.95},{"be":858.3,"cps":396.25},{"be":860.0,"cps":397.16},{"be":862.2,"cps":398.3},{"be":865.03,"cps":400.26}
],
"R_env": [
{"be":848.9,"cps":387.15},{"be":849.5,"cps":387.2},{"be":850.5,"cps":387.3},{"be":850.9,"cps":387.75},{"be":851.1,"cps":388.6},{"be":851.3,"cps":390.7},{"be":851.5,"cps":394.1},{"be":851.7,"cps":398.9},{"be":851.85,"cps":403.6},{"be":852.0,"cps":407.8},{"be":852.15,"cps":410.4},{"be":852.3,"cps":411.3},{"be":852.45,"cps":411.25},{"be":852.6,"cps":410.2},{"be":852.8,"cps":408.5},{"be":853.0,"cps":406.0},{"be":853.2,"cps":403.34},{"be":853.4,"cps":400.96},{"be":853.6,"cps":399.64},{"be":853.9,"cps":397.86},{"be":854.3,"cps":396.92},{"be":854.8,"cps":396.71},{"be":855.3,"cps":396.77},{"be":855.8,"cps":396.88},{"be":856.3,"cps":397.05},{"be":856.8,"cps":397.3},{"be":857.3,"cps":397.7},{"be":857.8,"cps":398.05},{"be":858.33,"cps":398.2},{"be":858.8,"cps":398.28},{"be":859.3,"cps":398.11},{"be":859.8,"cps":397.97},{"be":860.3,"cps":397.9},{"be":860.8,"cps":397.96},{"be":861.3,"cps":398.08},{"be":862.0,"cps":398.34},{"be":863.0,"cps":399.12},{"be":865.03,"cps":400.31}
],
"R_names": [
{"t":"Name","be":885.98,"cps":455.86,"k":"hdr"},{"t":"Ni(0) - 3","be":885.98,"cps":453.36,"k":"Ni(0) - 3"},{"t":"Ni(0) - 2","be":885.98,"cps":450.88,"k":"Ni(0) - 2"},{"t":"Ni(0) - 1","be":885.98,"cps":448.34,"k":"Ni(0) - 1"}
],
"R_cells": [
{"t":"Pos.","be":879.58,"cps":455.86},{"t":"FWHM","be":875.79,"cps":455.86},{"t":"L.Sh.","be":871.6,"cps":455.86},{"t":"Area","be":866.62,"cps":455.86},{"t":"%Area","be":863.01,"cps":455.86},
{"t":"858.33","be":878.99,"cps":453.36},{"t":"2.75","be":876.36,"cps":453.36},{"t":"GL(30)","be":869.68,"cps":453.36},{"t":"521.3","be":866.07,"cps":453.36},{"t":"12.5","be":863.48,"cps":453.36},
{"t":"855.95","be":878.99,"cps":450.88},{"t":"2.65","be":876.36,"cps":450.88},{"t":"GL(30)","be":869.68,"cps":450.88},{"t":"264.0","be":866.07,"cps":450.88},{"t":"6.3","be":863.48,"cps":450.88},
{"t":"852.30","be":878.99,"cps":448.34},{"t":"0.95","be":876.36,"cps":448.34},{"t":"LA(1.1,2.2,10)","be":869.68,"cps":448.34},{"t":"3385.1","be":866.07,"cps":448.34},{"t":"81.2","be":863.48,"cps":448.34}
],
"R_exp": [{"t":"x 10²","be":888.2,"cps":461.2}]
},
"hconcat": [
{
  "width": 571, "height": 399,
  "title": {"text": "5 N NaCl wear track (Ni 2p)", "dx": -44, "offset": -7},
  "encoding": {
    "x": {"field": "be", "type": "quantitative", "title": "Binding Energy (eV)",
      "scale": {"domain": [843.4, 888.4], "reverse": true, "nice": false, "zero": false},
      "axis": {"values": [844,845,846,847,848,849,850,851,852,853,854,855,856,857,858,859,860,861,862,863,864,865,866,867,868,869,870,871,872,873,874,875,876,877,878,879,880,881,882,883,884,885,886,887,888],
        "labelExpr": "datum.value % 5 === 0 ? datum.label : ''",
        "tickSize": {"condition": {"test": "datum.value % 5 === 0", "value": 5}, "value": 3},
        "labelPadding": 3, "titlePadding": 2}},
    "y": {"field": "cps", "type": "quantitative", "title": "CPS",
      "scale": {"domain": [663.8, 735.4], "nice": false, "zero": false},
      "axis": {"values": [664,666,668,670,672,674,676,678,680,682,684,686,688,690,692,694,696,698,700,702,704,706,708,710,712,714,716,718,720,722,724,726,728,730,732,734],
        "labelExpr": "datum.value % 10 === 0 ? datum.label : ''",
        "tickSize": {"condition": {"test": "datum.value % 10 === 0", "value": 4}, "value": 2.5},
        "labelPadding": 1, "titlePadding": 3}}
  },
  "layer": [
    {"data": {"name": "L_data"}, "mark": {"type": "line", "color": "#e8202a", "strokeWidth": 1, "clip": true}},
    {"data": {"name": "L_env"}, "mark": {"type": "line", "color": "#a8744a", "strokeWidth": 1}},
    {"data": {"name": "L_bg"}, "mark": {"type": "line", "color": "#a8744a", "strokeWidth": 1}},
    {"data": {"name": "L_c3"}, "mark": {"type": "line", "color": "#cc2222", "strokeWidth": 1}},
    {"data": {"name": "L_c2"}, "mark": {"type": "line", "color": "#33cccc", "strokeWidth": 1}},
    {"data": {"name": "L_c1"}, "mark": {"type": "line", "color": "#cc33dd", "strokeWidth": 1}},
    {"data": {"name": "L_names"}, "mark": {"type": "text", "align": "left", "baseline": "middle"},
      "encoding": {"text": {"field": "t"}, "color": {"field": "k", "type": "nominal", "legend": null,
        "scale": {"domain": ["hdr", "Ni(0) - 3", "Ni(0) - 2", "Ni(0) - 1"], "range": ["#222222", "#ff2a2a", "#2ccaca", "#c844e0"]}}}},
    {"data": {"name": "L_cells"}, "mark": {"type": "text", "align": "right", "baseline": "middle", "color": "#222222"},
      "encoding": {"text": {"field": "t"}}},
    {"data": {"name": "L_exp"}, "mark": {"type": "text", "align": "left", "baseline": "alphabetic", "dy": -2, "fontSize": 10.5, "color": "#222222"},
      "encoding": {"text": {"field": "t"}}}
  ]
},
{
  "width": 569, "height": 401,
  "title": {"text": "5 N NaCl reference (Ni 2p)", "dx": -63, "offset": -7},
  "encoding": {
    "x": {"field": "be", "type": "quantitative", "title": "Binding Energy (eV)",
      "scale": {"domain": [843.5, 888.2], "reverse": true, "nice": false, "zero": false},
      "axis": {"values": [844,845,846,847,848,849,850,851,852,853,854,855,856,857,858,859,860,861,862,863,864,865,866,867,868,869,870,871,872,873,874,875,876,877,878,879,880,881,882,883,884,885,886,887,888],
        "labelExpr": "datum.value % 5 === 0 ? datum.label : ''",
        "tickSize": {"condition": {"test": "datum.value % 5 === 0", "value": 5}, "value": 3},
        "labelPadding": 3, "titlePadding": 2}},
    "y": {"field": "cps", "type": "quantitative", "title": "CPS",
      "scale": {"domain": [381, 461.2], "nice": false, "zero": false},
      "axis": {"values": [382,384,386,388,390,392,394,396,398,400,402,404,406,408,410,412,414,416,418,420,422,424,426,428,430,432,434,436,438,440,442,444,446,448,450,452,454,456,458,460],
        "labelExpr": "datum.value % 10 === 0 ? datum.label : ''",
        "tickSize": {"condition": {"test": "datum.value % 10 === 0", "value": 4}, "value": 2.5},
        "labelPadding": 1, "titlePadding": 3}}
  },
  "layer": [
    {"data": {"name": "R_data"}, "mark": {"type": "line", "color": "#e8202a", "strokeWidth": 1, "clip": true}},
    {"data": {"name": "R_env"}, "mark": {"type": "line", "color": "#a8744a", "strokeWidth": 1}},
    {"data": {"name": "R_bg"}, "mark": {"type": "line", "color": "#a8744a", "strokeWidth": 1}},
    {"data": {"name": "R_c3"}, "mark": {"type": "line", "color": "#cc2222", "strokeWidth": 1}},
    {"data": {"name": "R_c2"}, "mark": {"type": "line", "color": "#33cccc", "strokeWidth": 1}},
    {"data": {"name": "R_c1"}, "mark": {"type": "line", "color": "#cc33dd", "strokeWidth": 1}},
    {"data": {"name": "R_names"}, "mark": {"type": "text", "align": "left", "baseline": "middle"},
      "encoding": {"text": {"field": "t"}, "color": {"field": "k", "type": "nominal", "legend": null,
        "scale": {"domain": ["hdr", "Ni(0) - 3", "Ni(0) - 2", "Ni(0) - 1"], "range": ["#222222", "#ff2a2a", "#2ccaca", "#c844e0"]}}}},
    {"data": {"name": "R_cells"}, "mark": {"type": "text", "align": "right", "baseline": "middle", "color": "#222222"},
      "encoding": {"text": {"field": "t"}}},
    {"data": {"name": "R_exp"}, "mark": {"type": "text", "align": "left", "baseline": "alphabetic", "dy": -2, "fontSize": 10.5, "color": "#222222"},
      "encoding": {"text": {"field": "t"}}}
  ]
}
]
}
